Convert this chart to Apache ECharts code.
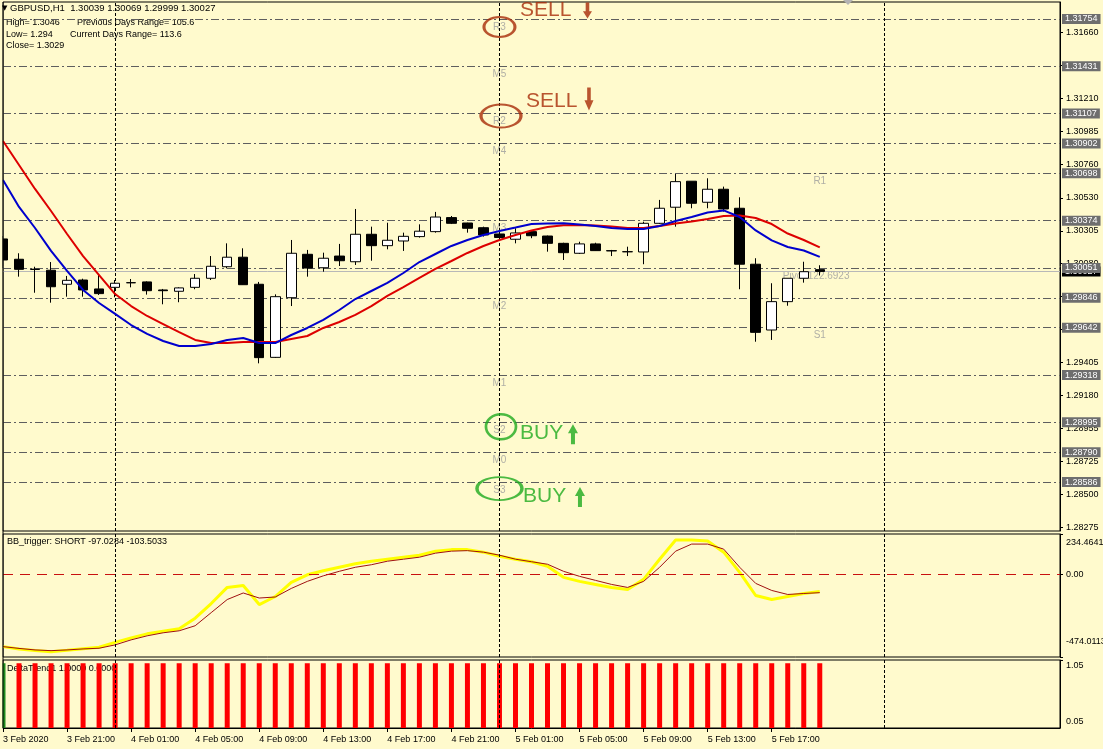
<!DOCTYPE html>
<html>
<head>
<meta charset="utf-8">
<title>GBPUSD,H1</title>
<script src="https://cdn.jsdelivr.net/npm/echarts@6.0.0/dist/echarts.min.js"></script>
<style>
  html, body { margin: 0; padding: 0; background: #fffacd; }
  #chart { width: 1103px; height: 749px; }
</style>
</head>
<body>
<div id="chart"></div>
<script>
// GBPUSD H1, one entry per bar: 3 Feb 2020 17:00 ... 5 Feb 2020 20:00
const opens = [1.30249, 1.30110, 1.30042, 1.30035, 1.29939, 1.29968, 1.29907, 1.29918, 1.29950, 1.29955,
  1.29900, 1.29891, 1.29918, 1.29980, 1.30059, 1.30124, 1.29939, 1.29439, 1.29847, 1.30144,
  1.30052, 1.30132, 1.30093, 1.30281, 1.30203, 1.30235, 1.30265, 1.30299, 1.30395, 1.30358,
  1.30326, 1.30283, 1.30247, 1.30299, 1.30269, 1.30219, 1.30151, 1.30215, 1.30169, 1.30162,
  1.30160, 1.30356, 1.30466, 1.30644, 1.30500, 1.30589, 1.30459, 1.30076, 1.29626, 1.29820,
  1.29980, 1.30039];
const closes = [1.30105, 1.30041, 1.30040, 1.29922, 1.29966, 1.29900, 1.29875, 1.29946, 1.29949, 1.29895,
  1.29895, 1.29914, 1.29980, 1.30062, 1.30124, 1.29936, 1.29437, 1.29854, 1.30151, 1.30050,
  1.30117, 1.30100, 1.30281, 1.30203, 1.30240, 1.30267, 1.30302, 1.30399, 1.30356, 1.30322,
  1.30276, 1.30259, 1.30290, 1.30271, 1.30219, 1.30155, 1.30215, 1.30169, 1.30167, 1.30161,
  1.30356, 1.30459, 1.30641, 1.30493, 1.30589, 1.30454, 1.30076, 1.29610, 1.29820, 1.29980,
  1.30025, 1.30027];
const lows = [1.30050, 1.29991, 1.29881, 1.29813, 1.29854, 1.29854, 1.29866, 1.29850, 1.29918, 1.29868,
  1.29802, 1.29816, 1.29905, 1.29968, 1.30048, 1.29934, 1.29398, 1.29435, 1.29790, 1.29991,
  1.30025, 1.30064, 1.30071, 1.30100, 1.30178, 1.30167, 1.30258, 1.30292, 1.30351, 1.30292,
  1.30265, 1.30242, 1.30219, 1.30254, 1.30162, 1.30105, 1.30146, 1.30167, 1.30132, 1.30132,
  1.30076, 1.30351, 1.30333, 1.30459, 1.30459, 1.30436, 1.29905, 1.29546, 1.29558, 1.29792,
  1.29950, 1.29999];
const highs = [1.30269, 1.30151, 1.30059, 1.30091, 1.29996, 1.29977, 1.30002, 1.29968, 1.29975, 1.29959,
  1.29907, 1.29918, 1.30009, 1.30132, 1.30219, 1.30185, 1.29955, 1.29870, 1.30242, 1.30174,
  1.30155, 1.30215, 1.30454, 1.30333, 1.30360, 1.30292, 1.30349, 1.30434, 1.30406, 1.30360,
  1.30333, 1.30310, 1.30322, 1.30310, 1.30272, 1.30223, 1.30230, 1.30223, 1.30174, 1.30196,
  1.30367, 1.30516, 1.30694, 1.30644, 1.30664, 1.30607, 1.30534, 1.30117, 1.29946, 1.29980,
  1.30093, 1.30069];

// moving averages (blue fast, red slow)
const maFast = [1.30652, 1.30468, 1.30324, 1.30167, 1.30030, 1.29900, 1.29811, 1.29736, 1.29660, 1.29599,
  1.29551, 1.29517, 1.29517, 1.29530, 1.29558, 1.29571, 1.29537, 1.29537, 1.29592, 1.29640,
  1.29695, 1.29763, 1.29838, 1.29893, 1.29948, 1.30016, 1.30091, 1.30146, 1.30201, 1.30242,
  1.30276, 1.30304, 1.30327, 1.30351, 1.30355, 1.30356, 1.30348, 1.30338, 1.30324, 1.30317,
  1.30317, 1.30338, 1.30372, 1.30399, 1.30430, 1.30444, 1.30399, 1.30307, 1.30239, 1.30194,
  1.30170, 1.30126];
const maSlow = [1.30919, 1.30755, 1.30591, 1.30440, 1.30283, 1.30132, 1.30002, 1.29872, 1.29790, 1.29722,
  1.29667, 1.29612, 1.29558, 1.29537, 1.29537, 1.29544, 1.29544, 1.29544, 1.29565, 1.29585,
  1.29640, 1.29681, 1.29729, 1.29790, 1.29859, 1.29920, 1.29982, 1.30044, 1.30098, 1.30153,
  1.30201, 1.30242, 1.30276, 1.30307, 1.30331, 1.30343, 1.30345, 1.30341, 1.30334, 1.30324,
  1.30324, 1.30338, 1.30355, 1.30369, 1.30386, 1.30406, 1.30410, 1.30392, 1.30351, 1.30286,
  1.30242, 1.30191];

// BB_trigger window
const bbMain = [-414.2, -427.5, -436.2, -443.2, -435.1, -426.4, -417.7, -389.8, -363.7, -340.6,
  -326.0, -311.4, -250.4, -166.2, -73.3, -61.7, -172.0, -125.6, -44.3, -0.7,
  22.5, 42.8, 63.2, 77.7, 89.3, 100.9, 112.5, 135.7, 144.5, 144.5,
  129.9, 106.7, 89.3, 74.8, 48.6, -15.2, -38.5, -55.9, -73.3, -84.9,
  -26.9, 89.3, 199.6, 199.6, 193.8, 129.9, 13.8, -119.8, -143.0, -125.6,
  -108.2, -97.0284];
const bbSignal = [-414.2, -424.6, -433.3, -437.4, -433.3, -427.5, -423.5, -404.3, -375.3, -352.0,
  -334.6, -323.0, -294.0, -218.5, -143.0, -105.3, -134.3, -128.5, -79.1, -38.5,
  -6.5, 19.6, 42.8, 57.4, 77.7, 89.3, 100.9, 124.1, 135.7, 138.6,
  129.9, 112.5, 89.3, 74.8, 60.3, 19.6, -9.4, -32.7, -55.9, -73.3,
  -38.5, 42.8, 135.7, 176.4, 176.4, 147.4, 42.8, -50.1, -90.7, -113.9,
  -108.2, -103.5033];
const bbMin = -474.0113, bbMax = 234.4641;

// DeltaTrend1 window
const deltaUp = [1, 0, 0, 0, 0, 0, 0, 0, 0, 0, 0, 0, 0, 0, 0, 0, 0, 0, 0, 0, 0, 0, 0, 0, 0, 0,
  0, 0, 0, 0, 0, 0, 0, 0, 0, 0, 0, 0, 0, 0, 0, 0, 0, 0, 0, 0, 0, 0, 0, 0, 0, 0];
const deltaDown = [0, 1, 1, 1, 1, 1, 1, 1, 1, 1, 1, 1, 1, 1, 1, 1, 1, 1, 1, 1, 1, 1, 1, 1, 1, 1,
  1, 1, 1, 1, 1, 1, 1, 1, 1, 1, 1, 1, 1, 1, 1, 1, 1, 1, 1, 1, 1, 1, 1, 1, 1, 1];

// time axis
const slotCount = 67;
const tickBars = [0, 4, 8, 12, 16, 20, 24, 28, 32, 36, 40, 44, 48];
const tickLabels = ['3 Feb 2020', '3 Feb 21:00', '4 Feb 01:00', '4 Feb 05:00', '4 Feb 09:00', '4 Feb 13:00',
  '4 Feb 17:00', '4 Feb 21:00', '5 Feb 01:00', '5 Feb 05:00', '5 Feb 09:00', '5 Feb 13:00', '5 Feb 17:00'];
const dayBars = [7, 31, 55];

// price axis
const priceMin = 1.28251, priceMax = 1.31870;
const priceTicks = [1.28275, 1.28500, 1.28725, 1.28955, 1.29180, 1.29405, 1.29630, 1.29855,
  1.30080, 1.30305, 1.30530, 1.30760, 1.30985, 1.31210, 1.31435, 1.31660];
const lastPrice = 1.30027;

// pivot levels
const levelNames = ['R3', 'M5', 'R2', 'M4', 'R1', 'M3', 'Pivot', 'M2', 'S1', 'M1', 'S2', 'M0', 'S3'];
const levelPrices = [1.31754, 1.31431, 1.31107, 1.30902, 1.30698, 1.30374, 1.30051, 1.29846,
  1.29642, 1.29318, 1.28995, 1.28790, 1.28586];
const levelTagBars = [31, 31, 31, 31, 51, 31, 49, 31, 51, 31, 31, 31, 31];
const pivotRange = '122.6923';

// trade signals drawn on the pivot levels
const signalNames = ['SELL', 'SELL', 'BUY', 'BUY'];
const signalPrices = [1.31754, 1.31107, 1.28995, 1.28586];
const signalBar = 31;

const FONT = '"Liberation Sans", Arial, sans-serif';
const BG = '#fffacd';
const SELL_C = '#a82a08', BUY_C = '#1eaa1e';
const ringSize = [[31, 20], [40, 23], [30, 25], [45, 23]];
const ringOffset = [[0, 8], [1.5, 2.5], [1.5, 4.5], [0, 6.5]];
const textPos = [[20.5, -9], [26.5, -12.5], [20.5, 10.5], [23.5, 14.5]];
const arrowOffset = [[88, -8.5], [89.5, -14.5], [73.5, 12], [80.5, 15]];
const arrowSize = [[9, 16], [9, 23], [10, 20], [10, 20]];
const ARROW_DN = 'path://M3,0L7,0L7,11L10,11L5,20L0,11L3,11Z';
const ARROW_UP = 'path://M5,0L10,9L7,9L7,20L3,20L3,9L0,9Z';

const slots = [];
for (let i = 0; i < slotCount; i++) slots.push(i);
const candles = opens.map((o, i) => [o, closes[i], lows[i], highs[i]]);

const chart = echarts.init(document.getElementById('chart'));

const hiddenX = (g) => ({
  type: 'category', gridIndex: g, data: slots, boundaryGap: false,
  axisLine: { show: false }, axisTick: { show: false }, axisLabel: { show: false }, splitLine: { show: false }
});
// dotted day separators, one fresh object per panel
const dayLines = () => ({
  silent: true, symbol: ['none', 'none'], label: { show: false },
  lineStyle: { color: '#000', type: [3, 2], width: 1 },
  data: dayBars.map(b => ({ xAxis: b }))
});
const isTick = (i) => tickBars.indexOf(i) >= 0;
const panel = (top, height) => ({
  left: 3, right: 43, top: top, height: height, outerBoundsMode: 'none', containLabel: false,
  show: true, borderColor: '#000', borderWidth: 1
});
const txt = (x, y, text, size) => ({
  type: 'text', x: x, y: y, z: 1,
  style: { text: text, font: (size || 9) + 'px ' + FONT, fill: '#000', verticalAlign: 'middle' }
});

const option = {
  backgroundColor: BG,
  animation: false,
  textStyle: { fontFamily: FONT },
  grid: [panel(2, 529), panel(534, 123), panel(660, 68)],
  xAxis: [
    hiddenX(0),
    hiddenX(1),
    Object.assign(hiddenX(2), {
      axisLine: { show: true, lineStyle: { color: '#000' } },
      axisTick: { show: true, length: 4, interval: isTick, lineStyle: { color: '#000' } },
      axisLabel: {
        show: true, interval: isTick, align: 'left', margin: 7, fontSize: 9, color: '#000',
        formatter: (v, i) => tickLabels[tickBars.indexOf(i)]
      }
    })
  ],
  yAxis: [
    {
      type: 'value', gridIndex: 0, position: 'right', min: priceMin, max: priceMax,
      axisLine: { show: true, lineStyle: { color: '#000' } },
      axisTick: { show: true, length: 3, customValues: priceTicks, lineStyle: { color: '#000' } },
      axisLabel: { customValues: priceTicks, fontSize: 9, color: '#000', margin: 6, formatter: v => v.toFixed(5) },
      splitLine: { show: false }
    },
    {
      type: 'value', gridIndex: 1, position: 'right', min: bbMin, max: bbMax,
      axisLine: { show: true, lineStyle: { color: '#000' } },
      axisTick: { show: true, length: 3, customValues: [bbMin, 0, bbMax], lineStyle: { color: '#000' } },
      axisLabel: {
        customValues: [bbMin, 0, bbMax], fontSize: 9, color: '#000', margin: 6,
        formatter: v => v === bbMax ? '{t|' + bbMax.toFixed(4) + '}' : v === bbMin ? '{b|' + bbMin.toFixed(4) + '}' : v.toFixed(2),
        rich: { t: { fontSize: 9, padding: [18, 0, 0, 0] }, b: { fontSize: 9, padding: [0, 0, 30, 0] } }
      },
      splitLine: { show: false }
    },
    {
      type: 'value', gridIndex: 2, position: 'right', min: 0, max: 1.05,
      axisLine: { show: true, lineStyle: { color: '#000' } },
      axisTick: { show: true, length: 3, customValues: [0, 1.05], lineStyle: { color: '#000' } },
      axisLabel: {
        customValues: [0, 0.05, 1.05], fontSize: 9, color: '#000', margin: 6,
        formatter: v => v === 1.05 ? '{t|1.05}' : v === 0 ? '{b|0.00}' : '{c|0.05}',
        rich: { t: { fontSize: 9, padding: [12, 0, 0, 0] }, b: { fontSize: 9, padding: [0, 0, 12, 0] }, c: { fontSize: 9, padding: [0, 0, 6, 0] } }
      },
      splitLine: { show: false }
    }
  ],
  series: [
    { // current bid line
      name: 'bid', type: 'line', xAxisIndex: 0, yAxisIndex: 0, data: [], z: 1,
      markLine: {
        silent: true, symbol: ['none', 'none'], precision: 5,
        lineStyle: { color: '#b8b8b8', type: 'solid', width: 1 },
        label: { position: 'end', distance: 2, formatter: p => p.value.toFixed(5), color: '#fff', backgroundColor: '#000', fontSize: 9, padding: [1, 3, 0, 3] },
        data: [{ yAxis: lastPrice }]
      }
    },
    { // pivot levels
      name: 'levels', type: 'scatter', xAxisIndex: 0, yAxisIndex: 0, z: 2,
      symbolSize: 0, silent: true,
      data: levelNames.map((n, i) => ({
        name: n === 'Pivot' ? n + ' ' + pivotRange : n,
        value: [levelTagBars[i], levelPrices[i]],
        label: n === 'Pivot' ? { position: [-5, 8], align: 'left' } : {}
      })),
      label: { show: true, formatter: p => p.name, position: [0, 8], align: 'center', verticalAlign: 'middle', color: '#9c9c9c', fontSize: 10 },
      markLine: {
        silent: true, symbol: ['none', 'none'], precision: 5,
        lineStyle: { color: '#5e5e5e', type: [8, 3, 2, 3], width: 1 },
        label: { position: 'end', distance: 2, formatter: p => p.value.toFixed(5), color: '#fff', backgroundColor: '#6e6e6e', fontSize: 9, padding: [1, 3, 0, 3] },
        data: levelPrices.map(p => ({ yAxis: p }))
      }
    },
    {
      name: 'days', type: 'line', xAxisIndex: 0, yAxisIndex: 0, data: [], z: 2, markLine: dayLines()
    },
    {
      name: 'GBPUSD,H1', type: 'candlestick', xAxisIndex: 0, yAxisIndex: 0, data: candles, z: 5,
      barWidth: 10,
      itemStyle: { color: '#fff', color0: '#000', borderColor: '#000', borderColor0: '#000', borderWidth: 1 }
    },
    {
      name: 'MA slow', type: 'line', xAxisIndex: 0, yAxisIndex: 0, data: maSlow, z: 6,
      symbol: 'none', lineStyle: { color: '#dd0000', width: 2 }
    },
    {
      name: 'MA fast', type: 'line', xAxisIndex: 0, yAxisIndex: 0, data: maFast, z: 7,
      symbol: 'none', lineStyle: { color: '#0000cd', width: 2 }
    },
    { // ellipses round the signal levels
      name: 'rings', type: 'scatter', xAxisIndex: 0, yAxisIndex: 0, z: 8, silent: true,
      data: signalPrices.map((p, i) => ({
        value: [signalBar, p], symbol: 'circle', symbolSize: ringSize[i], symbolOffset: ringOffset[i],
        itemStyle: { color: 'none', borderColor: signalNames[i] === 'SELL' ? SELL_C : BUY_C, borderWidth: 2.5 }
      }))
    },
    {
      name: 'signalText', type: 'scatter', xAxisIndex: 0, yAxisIndex: 0, z: 8, silent: true, symbolSize: 0,
      data: signalPrices.map((p, i) => ({
        value: [signalBar, p], name: signalNames[i],
        label: { position: textPos[i], color: signalNames[i] === 'SELL' ? SELL_C : BUY_C }
      })),
      label: { show: true, formatter: p => p.name, align: 'left', verticalAlign: 'middle', fontSize: 21, fontFamily: FONT }
    },
    {
      name: 'signalArrow', type: 'scatter', xAxisIndex: 0, yAxisIndex: 0, z: 8, silent: true,
      data: signalPrices.map((p, i) => ({
        value: [signalBar, p],
        symbol: signalNames[i] === 'SELL' ? ARROW_DN : ARROW_UP,
        symbolSize: arrowSize[i], symbolOffset: arrowOffset[i], symbolKeepAspect: false,
        itemStyle: { color: signalNames[i] === 'SELL' ? SELL_C : BUY_C }
      }))
    },
    {
      name: 'BB_trigger', type: 'line', xAxisIndex: 1, yAxisIndex: 1, data: bbMain, z: 3,
      symbol: 'none', lineStyle: { color: '#ffff00', width: 3 },
      markLine: {
        silent: true, symbol: ['none', 'none'], label: { show: false },
        lineStyle: { color: '#c81010', type: [10, 7], width: 1 },
        data: [{ yAxis: 0 }]
      }
    },
    {
      name: 'BB_signal', type: 'line', xAxisIndex: 1, yAxisIndex: 1, data: bbSignal, z: 4,
      symbol: 'none', lineStyle: { color: '#a01010', width: 1 }, markLine: dayLines()
    },
    {
      name: 'DeltaTrend up', type: 'bar', xAxisIndex: 2, yAxisIndex: 2, data: deltaUp, z: 3,
      barWidth: 5, barGap: '-100%', itemStyle: { color: '#1e8c1e' }
    },
    {
      name: 'DeltaTrend down', type: 'bar', xAxisIndex: 2, yAxisIndex: 2, data: deltaDown, z: 3,
      barWidth: 5, barGap: '-100%', itemStyle: { color: '#ff0000' }, markLine: dayLines()
    }
  ],
  graphic: [
    // keep the half-visible first bar inside the panels
    { type: 'rect', z: 50, shape: { x: 0, y: 0, width: 2.5, height: 729 }, style: { fill: BG } },
    { type: 'line', z: 51, shape: { x1: 3, y1: 2, x2: 3, y2: 728 }, style: { stroke: '#000', lineWidth: 1 } },
    { type: 'text', x: 2, y: 8, z: 52, style: { text: '▼', font: '7px "DejaVu Sans"', fill: '#000', verticalAlign: 'middle' } },
    txt(10, 8, 'GBPUSD,H1  1.30039 1.30069 1.29999 1.30027', 9.5),
    txt(6, 23, 'High= 1.3046'),
    txt(77, 23, 'Previous Days Range= 105.6'),
    txt(6, 34.5, 'Low= 1.294'),
    txt(70, 34.5, 'Current Days Range= 113.6'),
    txt(6, 46, 'Close= 1.3029'),
    txt(7, 542, 'BB_trigger: SHORT -97.0284 -103.5033'),
    txt(7, 669, 'DeltaTrend1 1.0000 0.0000'),
    { type: 'polygon', z: 1, shape: { points: [[843, 0], [853, 0], [848, 5]] }, style: { fill: '#b4b4b4' } }
  ]
};

chart.setOption(option);
</script>
</body>
</html>
